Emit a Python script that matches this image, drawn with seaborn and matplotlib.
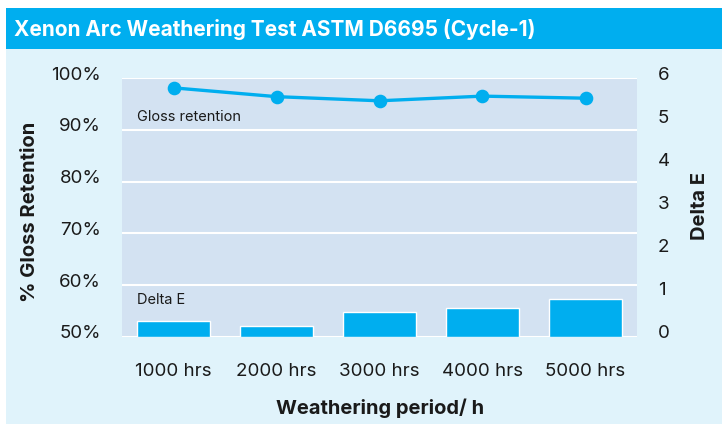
import matplotlib
matplotlib.use("Agg")
import matplotlib.pyplot as plt
import seaborn as sns
import pandas as pd
from matplotlib.patches import Rectangle
from matplotlib.ticker import FuncFormatter
from matplotlib.transforms import ScaledTranslation

categories = ["1000 hrs", "2000 hrs", "3000 hrs", "4000 hrs", "5000 hrs"]
gloss_retention = [98.1, 96.4, 95.6, 96.5, 96.1]
delta_e = [0.37, 0.25, 0.58, 0.67, 0.88]
left_ticks = [50, 60, 70, 80, 90, 100]
right_ticks = [0, 1, 2, 3, 4, 5, 6]

df = pd.DataFrame({"period": categories, "gloss": gloss_retention, "de": delta_e})

sns.set_theme(style="white")
plt.rcParams["font.family"] = ["Inter", "DejaVu Sans"]

BLUE = "#00AEEF"
BG = "#E0F3FB"
PLOT_BG = "#D3E2F2"
TXT = "#1a1a1a"

fig = plt.figure(figsize=(7.22, 4.24), dpi=100)
fig.patch.set_facecolor("white")
W, H = 722, 424
fig.patches.append(Rectangle((6 / W, 0), 1 - 6 / W, 1 - 49 / H, transform=fig.transFigure,
                             facecolor=BG, edgecolor="none", zorder=-10))
fig.patches.append(Rectangle((6 / W, 1 - 49 / H), 1 - 6 / W, 41 / H, transform=fig.transFigure,
                             facecolor=BLUE, edgecolor="none", zorder=-10))
fig.text(14 / W, 1 - 29 / H, "Xenon Arc Weathering Test ASTM D6695 (Cycle-1)", color="white",
         fontsize=15, fontweight="bold", va="center", ha="left")

ax = fig.add_axes([122 / W, 1 - 337 / H, (637 - 122) / W, (337 - 78) / H])
ax.set_facecolor(PLOT_BG)
ax2 = ax.twinx()

sns.barplot(data=df, x="period", y="de", ax=ax2, color=BLUE, width=0.71, saturation=1)
sns.pointplot(data=df, x="period", y="gloss", ax=ax, color=BLUE, markersize=8,
              linewidth=2.4)

ax.set_xlim(-0.5, 4.5)
ax.set_ylim(50, 100)
ax.set_yticks(left_ticks)
ax.yaxis.set_major_formatter(FuncFormatter(lambda v, p: f"{int(v)}%"))
ax2.set_ylim(0, 6)
ax2.set_yticks(right_ticks)

ax.grid(axis="y", color="white", linewidth=1.5)
ax.set_axisbelow(True)
for a in (ax, ax2):
    for s in a.spines.values():
        s.set_visible(False)
    a.tick_params(length=0)

ax.tick_params(axis="y", labelsize=13.5, colors=TXT, pad=15)
ax.tick_params(axis="x", labelsize=13.5, colors=TXT, pad=19)
ax2.tick_params(axis="y", labelsize=13.5, colors=TXT, pad=15)

shift = ScaledTranslation(0, 5 / 100, fig.dpi_scale_trans)
for lab in ax.get_yticklabels() + ax2.get_yticklabels():
    lab.set_transform(lab.get_transform() + shift)

ax.set_xlabel("Weathering period/ h", fontsize=14.5, fontweight="bold", color=TXT)
ax.set_ylabel("% Gloss Retention", fontsize=14.5, fontweight="bold", color=TXT)
ax2.set_ylabel("Delta E", fontsize=14.5, fontweight="bold", color=TXT)
ax.xaxis.set_label_coords((380.5 - 122) / 515, (337 - 408) / 259)
ax.yaxis.set_label_coords((30 - 122) / 515, (337 - 212) / 259)
ax2.yaxis.set_label_coords((700 - 122) / 515, (337 - 206.5) / 259)
for lbl in (ax.xaxis.label, ax.yaxis.label, ax2.yaxis.label):
    lbl.set_va("center")
    lbl.set_ha("center")

ax.text(-0.35, 92.4, "Gloss retention", fontsize=10.5, color=TXT, va="center", ha="left")
ax.text(-0.35, 57.2, "Delta E", fontsize=10.5, color=TXT, va="center", ha="left")

fig.savefig("out.png", dpi=100)
